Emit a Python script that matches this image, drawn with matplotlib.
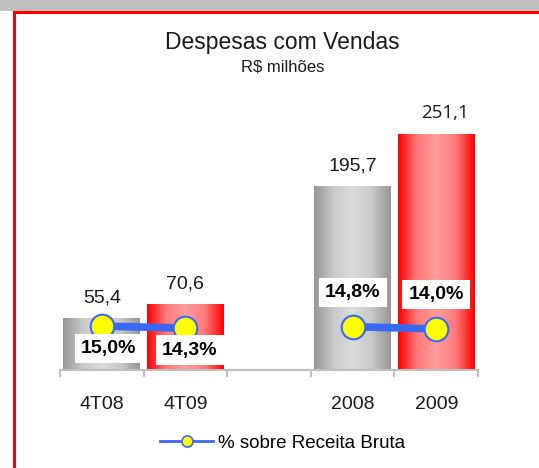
import numpy as np
import matplotlib
matplotlib.use("Agg")
import matplotlib.pyplot as plt
from matplotlib.lines import Line2D
from matplotlib.patches import Rectangle
from matplotlib.colors import LinearSegmentedColormap

# ---- data ----
categories = ["4T08", "4T09", "", "2008", "2009"]
despesas = [55.4, 70.6, np.nan, 195.7, 251.1]
despesas_labels = ["55,4", "70,6", "", "195,7", "251,1"]
pct = [15.0, 14.3, np.nan, 14.8, 14.0]
pct_labels = ["15,0%", "14,3%", "", "14,8%", "14,0%"]
bar_kind = ["gray", "red", "", "gray", "red"]
title = "Despesas com Vendas"
subtitle = "R$ milhões"
legend_label = "% sobre Receita Bruta"

W, H = 539, 468
fig = plt.figure(figsize=(W / 100, H / 100), dpi=100)
fig.patch.set_facecolor("white")

# top gray band and red frame
fig.add_artist(Rectangle((0, 1 - 11 / H), 1, 11 / H, transform=fig.transFigure,
                         facecolor="#c0c0c0", edgecolor="none", zorder=0))
fig.add_artist(Line2D([14 / W, 14 / W], [0, 1 - 12 / H], transform=fig.transFigure,
                      color="red", lw=2.2, zorder=1))
fig.add_artist(Line2D([14 / W, 1], [1 - 12 / H, 1 - 12 / H], transform=fig.transFigure,
                      color="red", lw=2.2, zorder=1))

font = "Liberation Sans"

ax_left, ax_right = 60, 478
ax_bottom, ax_top = 370, 120
ax = fig.add_axes([ax_left / W, (H - ax_bottom) / H, (ax_right - ax_left) / W,
                   (ax_bottom - ax_top) / H])
px_per_unit = 0.94
x = np.arange(len(categories))

cmaps = {
    "gray": LinearSegmentedColormap.from_list("g", ["#969696", "#c8c8c8", "#dcdcdc", "#c8c8c8", "#969696"]),
    "red": LinearSegmentedColormap.from_list("r", ["#ff0000", "#ff7a7a", "#ff9c9c", "#ff7a7a", "#ff0000"]),
}
grad = np.linspace(0, 1, 256).reshape(1, -1)
bw = 0.92
for i in range(len(categories)):
    if np.isnan(despesas[i]):
        continue
    bars = ax.bar(x[i], despesas[i], width=bw, color="none", edgecolor="none", zorder=2)
    r = bars[0]
    bx, by = r.get_x(), r.get_y()
    im = ax.imshow(grad, cmap=cmaps[bar_kind[i]], aspect="auto",
                   extent=[bx, bx + r.get_width(), by, by + r.get_height()], zorder=2)
    im.set_clip_path(r)
    if i == len(categories) - 1:
        # last label rendered in a different (Calibri-like) face in the original
        ax.text(x[i] + 0.1, despesas[i] + 21 / px_per_unit, despesas_labels[i], ha="center",
                va="center", fontsize=13.5, family="Open Sans", color="#1a1a1a", zorder=5)
    else:
        ax.text(x[i], despesas[i] + 20 / px_per_unit, despesas_labels[i], ha="center",
                va="center", fontsize=14, family=font, color="#1a1a1a", zorder=5)
ax.set_xlim(-0.5, len(categories) - 0.5)
ax.set_ylim(0, (ax_bottom - ax_top) / px_per_unit)

for s in ["top", "right", "left"]:
    ax.spines[s].set_visible(False)
ax.spines["bottom"].set_color("#bfbfbf")
ax.spines["bottom"].set_linewidth(1.5)
ax.set_yticks([])
ax.set_xticks(x)
ax.set_xticklabels(categories, fontsize=14, family=font, color="#1a1a1a")
ax.tick_params(axis="x", which="major", length=0, pad=19)
ax.set_xticks(np.arange(-0.5, len(categories)), minor=True)
ax.tick_params(axis="x", which="minor", length=5, width=1.5, color="#bfbfbf", direction="out")

# secondary axis for percentages
ax2 = ax.twinx()
px2 = 2.93
ax2.set_ylim(0, (ax_bottom - ax_top) / px2)
ax2.set_xlim(-0.5, len(categories) - 0.5)
ax2.axis("off")
line_color = "#3a68f5"
ax2.plot(x, pct, color=line_color, lw=5.5, marker="o", markersize=17,
         markerfacecolor="#ffff00", markeredgecolor=line_color, markeredgewidth=1.5, zorder=4)
offsets = [-7.7, -7.5, 0, 11.6, 11.8]
xshift = [0.08, 0.05, 0, 0.0, 0.0]
for i in range(len(categories)):
    if np.isnan(pct[i]):
        continue
    ax2.text(x[i] + xshift[i], pct[i] + offsets[i], pct_labels[i], ha="center",
             va="center", fontsize=14, fontweight="bold", family=font, color="black", zorder=6,
             bbox=dict(boxstyle="square,pad=0.32", facecolor="white", edgecolor="none"))

# titles
fig.text(282 / W, 1 - 42 / H, title, ha="center", va="center", fontsize=16.5, family=font,
         color="#1a1a1a")
fig.text(283 / W, 1 - 67 / H, subtitle, ha="center", va="center", fontsize=12, family=font,
         color="#1a1a1a")

# legend
handle = Line2D([], [], color=line_color, lw=2, marker="o", markersize=8,
                markerfacecolor="#ffff00", markeredgecolor=line_color, markeredgewidth=1.2)
fig.legend([handle], [legend_label], loc="center", bbox_to_anchor=(283 / W, 1 - 443 / H),
           frameon=False, prop=dict(family=font, size=13.5), handlelength=2.8,
           handletextpad=0.3)

fig.savefig("out.png", dpi=100)
